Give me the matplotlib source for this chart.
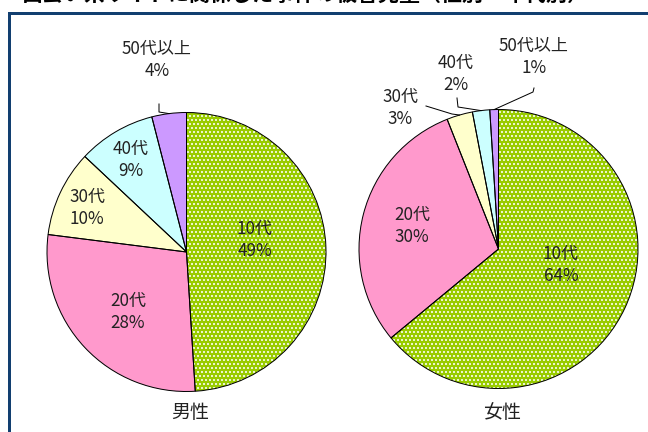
import numpy as np
import matplotlib
matplotlib.use("Agg")
import matplotlib.pyplot as plt
from matplotlib.patches import Rectangle

plt.rcParams['font.family'] = ['Noto Sans CJK JP', 'DejaVu Sans']
plt.rcParams['hatch.color'] = 'white'
plt.rcParams['hatch.linewidth'] = 1.2

# data
ages = ['10代', '20代', '30代', '40代', '50代以上']
male = [49, 28, 10, 9, 4]
female = [64, 30, 3, 2, 1]
groups = ['男性', '女性']
title = '出会い系サイトに関係した事件の被害児童（性別・年代別）'

colors = ['#99cc00', '#ff99cc', '#ffffcc', '#ccffff', '#cc99ff']
hatches = ['...', None, None, None, None]

# layout in pixels (y down)
W, H = 648, 432
centers = [(186.5, 252), (498.5, 249)]
radius = 139.5
label_pos = [
    [(255, 240), (128, 312), (87, 208), (131, 160), (157, 60)],
    [(561, 265), (412, 226), (400, 108), (456, 74), (534, 57)],
]
# leader start / elbow points for outside labels (series, slice): points
leaders = {
    (0, 4): [(159, 104), (159, 112)],
    (1, 2): [(426, 106), (452, 114)],
    (1, 3): [(457, 98), (458, 107)],
    (1, 4): [(534, 88), (533, 92)],
}

fig = plt.figure(figsize=(W / 72, H / 72), dpi=72)
ax = fig.add_axes([0, 0, 1, 1])

# panel frame
ax.add_patch(Rectangle((8.5, 12.5), 700, 500, facecolor='white',
                       edgecolor='#123f70', linewidth=3, zorder=0))

for i, vals in enumerate([male, female]):
    c = centers[i]
    wedges, _ = ax.pie(vals, colors=colors, center=c, radius=radius,
                       startangle=-90, counterclock=True, frame=True,
                       wedgeprops=dict(linewidth=0))
    for w, h in zip(wedges, hatches):
        if h:
            w.set_hatch(h)
    edges, _ = ax.pie(vals, center=c, radius=radius, startangle=-90,
                      counterclock=True, frame=True,
                      wedgeprops=dict(fill=False, edgecolor='black', linewidth=1))
    for j, (name, v) in enumerate(zip(ages, vals)):
        x, y = label_pos[i][j]
        ax.text(x, y, f'{name}\n{v}%', ha='center', va='center',
                fontsize=17, color='#222222', linespacing=1.25, zorder=5)
        if (i, j) in leaders:
            w = edges[j]
            mid = np.deg2rad((w.theta1 + w.theta2) / 2)
            end = (c[0] + radius * np.cos(mid), c[1] + radius * np.sin(mid))
            pts = leaders[(i, j)] + [end]
            ax.plot([p[0] for p in pts], [p[1] for p in pts],
                    color='black', linewidth=1, zorder=4)
    ax.text(c[0] + 4, 413, groups[i], ha='center', va='center',
            fontsize=19, color='#222222')

# title is cut off at the top edge, as in the source image
ax.text(22, 1, title, ha='left', va='baseline', fontsize=21,
        fontweight='bold', color='black')

ax.set_xlim(0, W)
ax.set_ylim(H, 0)
ax.set_aspect('auto')
ax.axis('off')

fig.savefig('out.png', dpi=72)
